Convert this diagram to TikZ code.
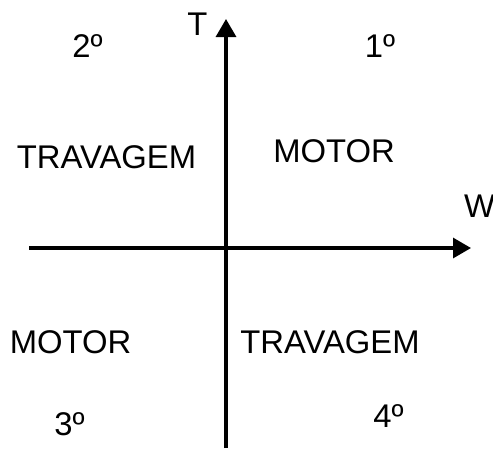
\documentclass[tikz,border=0pt]{standalone}
\usepackage{fontspec}
\setmainfont{Liberation Sans}
\usetikzlibrary{arrows.meta}
\begin{document}
\begin{tikzpicture}[x=1pt,y=-1pt,
  lbl/.style={inner sep=0pt,anchor=center,font=\fontsize{32.8}{38}\selectfont},
  axis/.style={line width=3.2pt,-{Triangle[length=18pt,width=20pt]}}]
\useasboundingbox (0,0) rectangle (493,448);
\coordinate (xs) at (29,248);
\coordinate (xe) at (471,248);
\coordinate (ys) at (226,448);
\coordinate (ye) at (226,19);
\draw[axis] (xs) -- (xe);
\draw[axis] (ys) -- (ye);
\node[lbl] (T) at (197.5,24.5) {T};
\node[lbl] (W) at (479.5,206) {W};
\node[lbl] (q1) at (380,46) {1º};
\node[lbl] (q2) at (87.5,46) {2º};
\node[lbl] (q3) at (69.5,424.5) {3º};
\node[lbl] (q4) at (388.5,416.5) {4º};
\node[lbl] (trav1) at (106.5,157) {TRAVAGEM};
\node[lbl] (mot1) at (334,151.5) {MOTOR};
\node[lbl] (mot2) at (70.5,342.5) {MOTOR};
\node[lbl] (trav2) at (330,342.5) {TRAVAGEM};
\end{tikzpicture}
\end{document}
